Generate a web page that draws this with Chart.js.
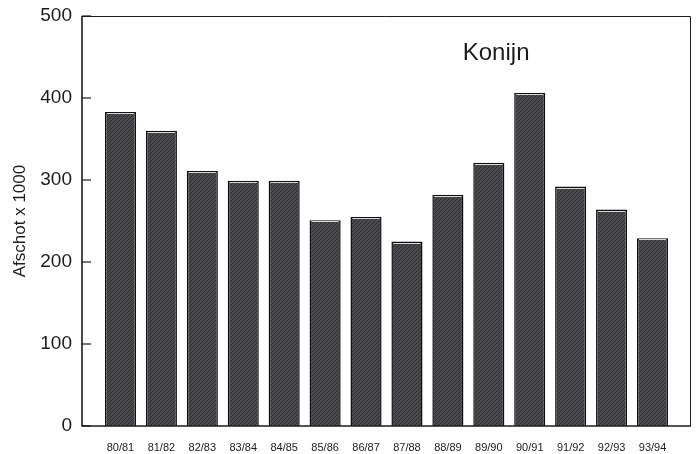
<!DOCTYPE html>
<html>
<head>
<meta charset="utf-8">
<script src="https://cdn.jsdelivr.net/npm/chart.js@4"></script>
<style>
  html, body { margin: 0; padding: 0; background: #fff; }
  #wrap { width: 700px; height: 454px; }
</style>
</head>
<body>
<div id="wrap"><canvas id="chart"></canvas></div>
<script>
// Afschot konijn per jachtseizoen (x 1000)
const seasons = ['80/81', '81/82', '82/83', '83/84', '84/85', '85/86', '86/87',
                 '87/88', '88/89', '89/90', '90/91', '91/92', '92/93', '93/94'];
const afschot = [383, 360, 311, 299, 299, 251, 255, 225, 282, 321, 406, 292, 264, 229];
const yTicks = [0, 100, 200, 300, 400, 500];

const FONT = '"Liberation Sans", Arial, sans-serif';
const INK = '#1c1c1c';

// grainy dark fill like the scanned original
function makeHatch() {
    const c = document.createElement('canvas');
    c.width = 4;
    c.height = 4;
    const g = c.getContext('2d');
    g.fillStyle = '#4a4a4e';
    g.fillRect(0, 0, 4, 4);
    g.strokeStyle = '#2e2e31';
    g.lineWidth = 1;
    g.beginPath();
    g.moveTo(0, 4);
    g.lineTo(4, 0);
    g.stroke();
    return g.createPattern(c, 'repeat');
}

// frame, inward tick marks, bar highlights and the "Konijn" label
const framePlugin = {
    id: 'frame',
    afterDatasetsDraw(chart) {
        const { ctx, chartArea: a, scales } = chart;
        ctx.save();

        // light line just under each bar's top edge
        ctx.strokeStyle = '#d8d8d8';
        ctx.lineWidth = 1;
        chart.getDatasetMeta(0).data.forEach(bar => {
            const half = bar.width / 2;
            ctx.beginPath();
            ctx.moveTo(bar.x - half + 2, Math.round(bar.y) + 1.5);
            ctx.lineTo(bar.x + half - 2, Math.round(bar.y) + 1.5);
            ctx.stroke();
        });

        // top and right border
        ctx.strokeStyle = INK;
        ctx.lineWidth = 1;
        ctx.beginPath();
        ctx.moveTo(a.left, a.top + 0.5);
        ctx.lineTo(a.right - 0.5, a.top + 0.5);
        ctx.lineTo(a.right - 0.5, a.bottom);
        ctx.stroke();

        // left and bottom axis
        ctx.lineWidth = 1.6;
        ctx.beginPath();
        ctx.moveTo(a.left, a.top);
        ctx.lineTo(a.left, a.bottom);
        ctx.lineTo(a.right, a.bottom);
        ctx.stroke();

        // inward tick marks on the y axis
        ctx.lineWidth = 1.2;
        yTicks.forEach(v => {
            const y = scales.y.getPixelForValue(v);
            ctx.beginPath();
            ctx.moveTo(a.left, y);
            ctx.lineTo(a.left + 9, y);
            ctx.stroke();
        });

        ctx.fillStyle = INK;
        ctx.font = '24px ' + FONT;
        ctx.textAlign = 'center';
        ctx.textBaseline = 'middle';
        ctx.fillText('Konijn', a.left + a.width * 0.68, a.top + a.height * 0.09);
        ctx.restore();
    }
};

const ctx = document.getElementById('chart').getContext('2d');
new Chart(ctx, {
    type: 'bar',
    data: {
        datasets: [{
            label: 'Afschot',
            data: afschot.map((v, i) => ({ x: i, y: v })),
            backgroundColor: makeHatch(),
            borderColor: '#111111',
            borderWidth: 1.5,
            borderSkipped: 'bottom',
            barPercentage: 0.76,
            categoryPercentage: 1
        }]
    },
    options: {
        responsive: true,
        maintainAspectRatio: false,
        animation: false,
        layout: { padding: { top: 16, right: 9, left: 0, bottom: 0 } },
        plugins: {
            legend: { display: false },
            tooltip: { enabled: false }
        },
        scales: {
            x: {
                type: 'linear',
                offset: false,
                min: -0.94,
                max: 13.94,
                grid: { display: false, drawTicks: false },
                border: { display: false },
                afterBuildTicks: scale => {
                    scale.ticks = seasons.map((s, i) => ({ value: i }));
                },
                afterFit: scale => { scale.height = 28; },
                ticks: {
                    autoSkip: false,
                    maxRotation: 0,
                    padding: 15,
                    color: INK,
                    font: { family: FONT, size: 11 },
                    callback: v => seasons[v]
                }
            },
            y: {
                min: 0,
                max: 500,
                grid: { display: false, drawTicks: false },
                border: { display: false },
                afterFit: scale => {
                    scale.width = 82;
                    scale.paddingTop = 0;
                },
                ticks: {
                    stepSize: 100,
                    padding: 10,
                    color: INK,
                    font: { family: FONT, size: 19 }
                },
                title: {
                    display: true,
                    text: 'Afschot x 1000',
                    color: INK,
                    padding: { top: 10, bottom: 0 },
                    font: { family: FONT, size: 17 }
                }
            }
        }
    },
    plugins: [framePlugin]
});
</script>
</body>
</html>
